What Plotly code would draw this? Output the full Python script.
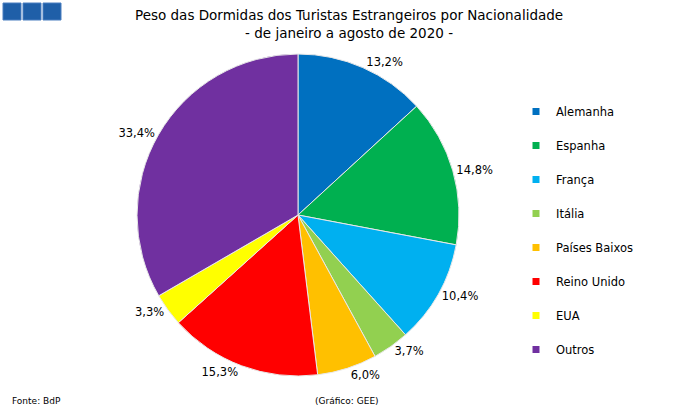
import plotly.graph_objects as go

categories = ["Alemanha", "Espanha", "França", "Itália", "Países Baixos", "Reino Unido", "EUA", "Outros"]
values = [13.2, 14.8, 10.4, 3.7, 6.0, 15.3, 3.3, 33.4]
colors = ["#0070C0", "#00B050", "#00B0F0", "#92D050", "#FFC000", "#FF0000", "#FFFF00", "#7030A0"]

W, H = 680, 415
FONT = "DejaVu Sans, Liberation Sans, Arial"
def px(x0, x1):
    return [x0 / W, x1 / W]
def py(y0, y1):
    return [1 - y1 / H, 1 - y0 / H]

fig = go.Figure()
fig.add_trace(go.Pie(
    labels=categories, values=values, sort=False, direction="clockwise", rotation=0,
    marker=dict(colors=colors, line=dict(color="#E8E8E8", width=1)),
    texttemplate="%{value:.1f}%", textposition="outside",
    textfont=dict(family=FONT, size=11.5, color="#000"),
    domain=dict(x=px(137, 459), y=py(54, 376)),
    showlegend=False, hoverinfo="label+value",
))
for c, col in zip(categories, colors):
    fig.add_trace(go.Scatter(x=[None], y=[None], mode="markers", name=c, legendgroup=c,
                             marker=dict(symbol="square", size=7, color=col)))

fig.update_layout(
    width=W, height=H, margin=dict(l=0, r=0, t=0, b=0),
    paper_bgcolor="white", plot_bgcolor="white",
    separators=",.",
    font=dict(family=FONT, size=11.5, color="#000"),
    xaxis=dict(visible=False), yaxis=dict(visible=False),
    legend=dict(x=516 / W, y=1 - 97 / H, xanchor="left", yanchor="top",
                tracegroupgap=15, itemwidth=30,
                font=dict(family=FONT, size=11.5, color="#000"),
                bgcolor="rgba(0,0,0,0)"),
    annotations=[
        dict(text="Peso das Dormidas dos Turistas Estrangeiros por Nacionalidade<br>- de janeiro a agosto de 2020 -",
             x=349 / W, y=1 - 24 / H, xref="paper", yref="paper", showarrow=False,
             xanchor="center", yanchor="middle", font=dict(size=13.5)),
        dict(text="Fonte: BdP", x=10 / W, y=1 - 401 / H, xref="paper", yref="paper",
             showarrow=False, xanchor="left", yanchor="middle", font=dict(size=9)),
        dict(text="(Gráfico: GEE)", x=313 / W, y=1 - 401 / H, xref="paper", yref="paper",
             showarrow=False, xanchor="left", yanchor="middle", font=dict(size=9)),
    ],
    shapes=[
        dict(type="rect", xref="paper", yref="paper", x0=(3 + i * 20) / W, x1=(21 + i * 20) / W,
             y0=1 - 20 / H, y1=1 - 3 / H, fillcolor="#1F5FA8", line=dict(color="#4A7FC0", width=1))
        for i in range(3)
    ],
)
fig.write_html("out.html", config={"displayModeBar": False},
               post_script="document.body.style.margin='0';")
